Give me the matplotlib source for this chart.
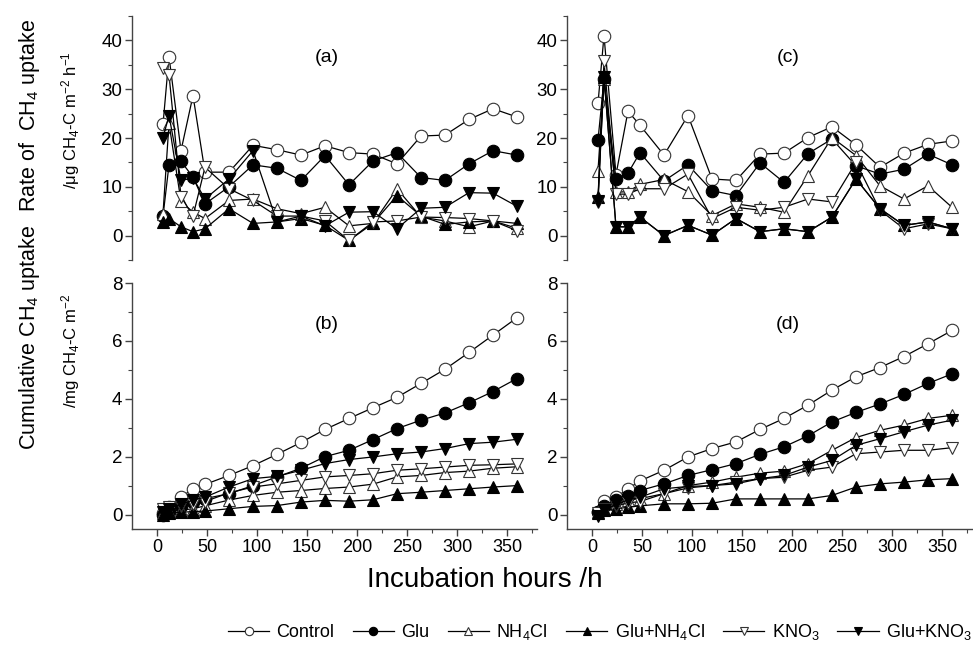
import numpy as np
import matplotlib
matplotlib.use("Agg")
import matplotlib.pyplot as plt
from matplotlib.lines import Line2D

plt.rcParams["font.family"] = ["Liberation Sans", "DejaVu Sans"]
plt.rcParams["mathtext.fontset"] = "custom"
plt.rcParams["mathtext.rm"] = "Liberation Sans"
plt.rcParams["mathtext.it"] = "Liberation Sans"

# ---- data ----
hours = [6, 12, 24, 36, 48, 72, 96, 120, 144, 168, 192, 216, 240, 264, 288, 312, 336, 360]
treatments = ["Control", "Glu", "NH$_4$Cl", "Glu+NH$_4$Cl", "KNO$_3$", "Glu+KNO$_3$"]

# (a) rate, soil 1
rate_a_control = [22.8, 36.7, 17.4, 28.7, 13.0, 13.0, 18.5, 17.6, 16.5, 18.4, 17.0, 16.7, 14.7, 20.4, 20.6, 23.8, 26.0, 24.3]
rate_a_glu     = [4.0, 14.5, 15.2, 12.0, 6.5, 10.0, 14.5, 13.8, 11.3, 16.4, 10.4, 15.3, 17.0, 11.9, 11.3, 14.7, 17.4, 16.5]
rate_a_nh4     = [4.5, 23.0, 7.0, 4.8, 3.5, 7.2, 7.5, 5.5, 4.5, 5.8, 2.0, 2.5, 9.6, 3.8, 3.0, 1.8, 3.0, 1.5]
rate_a_glu_nh4 = [2.8, 3.5, 1.8, 0.8, 1.4, 5.5, 2.5, 2.8, 3.5, 2.1, -1.0, 2.5, 8.2, 4.0, 2.3, 2.8, 3.0, 2.5]
rate_a_kno3    = [34.4, 33.0, 8.0, 4.0, 14.0, 9.6, 7.2, 4.0, 4.0, 3.0, -1.0, 2.8, 3.0, 3.8, 3.7, 3.5, 3.0, 1.0]
rate_a_glu_kno3 = [20.1, 24.6, 11.3, 11.8, 7.5, 11.6, 17.4, 2.8, 4.0, 2.0, 4.8, 4.9, 1.4, 5.6, 5.8, 8.8, 8.7, 6.0]

# (c) rate, soil 2
rate_c_control = [27.1, 41.0, 12.5, 25.5, 22.6, 16.5, 24.6, 11.6, 11.3, 16.7, 16.9, 20.1, 22.3, 18.6, 14.0, 16.9, 18.7, 19.4]
rate_c_glu     = [19.6, 32.0, 11.6, 12.8, 17.0, 11.2, 14.5, 9.2, 8.2, 14.9, 10.9, 16.8, 19.8, 14.3, 12.6, 13.6, 16.7, 14.5]
rate_c_nh4     = [13.3, 32.0, 8.9, 9.0, 10.5, 11.5, 9.0, 4.1, 6.5, 5.8, 4.8, 12.3, 20.1, 16.4, 10.2, 7.5, 10.2, 5.8]
rate_c_glu_nh4 = [8.0, 32.5, 1.8, 1.8, 3.8, 0.0, 2.1, 0.1, 3.5, 0.8, 1.4, 0.8, 3.8, 11.6, 5.5, 2.1, 2.8, 1.4]
rate_c_kno3    = [6.9, 35.7, 8.5, 8.5, 9.6, 9.6, 12.6, 3.5, 5.8, 5.2, 5.8, 7.5, 6.9, 15.0, 5.2, 1.4, 2.4, 1.4]
rate_c_glu_kno3 = [7.0, 32.5, 1.8, 1.8, 3.8, 0.0, 2.1, 0.1, 3.5, 0.8, 1.4, 0.8, 3.8, 11.6, 5.5, 2.1, 2.8, 1.4]

# (b) cumulative, soil 1
cum_b_control = [0.05, 0.25, 0.6, 0.89, 1.04, 1.35, 1.69, 2.08, 2.49, 2.94, 3.32, 3.69, 4.05, 4.53, 5.02, 5.6, 6.2, 6.8]
cum_b_glu     = [0.0, 0.1, 0.3, 0.45, 0.55, 0.72, 1.0, 1.3, 1.6, 2.0, 2.22, 2.59, 2.97, 3.26, 3.51, 3.86, 4.25, 4.7]
cum_b_nh4     = [0.05, 0.1, 0.15, 0.2, 0.3, 0.5, 0.66, 0.77, 0.83, 0.9, 0.95, 1.05, 1.3, 1.35, 1.45, 1.5, 1.6, 1.65]
cum_b_glu_nh4 = [0.0, 0.05, 0.08, 0.1, 0.12, 0.2, 0.28, 0.31, 0.43, 0.49, 0.46, 0.51, 0.72, 0.77, 0.83, 0.89, 0.95, 1.0]
cum_b_kno3    = [0.2, 0.25, 0.3, 0.35, 0.45, 0.75, 0.95, 1.06, 1.18, 1.3, 1.35, 1.41, 1.53, 1.58, 1.64, 1.7, 1.72, 1.75]
cum_b_glu_kno3 = [0.1, 0.2, 0.35, 0.5, 0.6, 0.95, 1.24, 1.32, 1.53, 1.76, 1.9, 1.99, 2.1, 2.16, 2.28, 2.45, 2.5, 2.6]

# (d) cumulative, soil 2
cum_d_control = [0.1, 0.46, 0.6, 0.89, 1.16, 1.53, 1.99, 2.28, 2.51, 2.94, 3.32, 3.78, 4.3, 4.76, 5.08, 5.46, 5.9, 6.36]
cum_d_glu     = [0.1, 0.3, 0.5, 0.65, 0.83, 1.06, 1.35, 1.55, 1.76, 2.08, 2.34, 2.72, 3.2, 3.53, 3.82, 4.15, 4.53, 4.86]
cum_d_nh4     = [0.1, 0.2, 0.35, 0.5, 0.55, 0.72, 1.0, 1.12, 1.29, 1.43, 1.5, 1.76, 2.22, 2.66, 2.91, 3.09, 3.32, 3.43]
cum_d_glu_nh4 = [0.05, 0.15, 0.2, 0.25, 0.3, 0.37, 0.37, 0.39, 0.54, 0.54, 0.54, 0.54, 0.66, 0.95, 1.06, 1.12, 1.2, 1.24]
cum_d_kno3    = [0.05, 0.2, 0.3, 0.4, 0.45, 0.72, 0.92, 1.0, 1.12, 1.24, 1.29, 1.53, 1.64, 2.1, 2.16, 2.22, 2.22, 2.31]
cum_d_glu_kno3 = [-0.05, 0.15, 0.35, 0.5, 0.6, 0.89, 0.97, 1.0, 1.06, 1.24, 1.35, 1.64, 1.87, 2.39, 2.62, 2.86, 3.09, 3.26]

# marker style per treatment: (marker, facecolor)
styles = [("o", "white"), ("o", "black"), ("^", "white"), ("^", "black"), ("v", "white"), ("v", "black")]

panels = {
    "a": [rate_a_control, rate_a_glu, rate_a_nh4, rate_a_glu_nh4, rate_a_kno3, rate_a_glu_kno3],
    "c": [rate_c_control, rate_c_glu, rate_c_nh4, rate_c_glu_nh4, rate_c_kno3, rate_c_glu_kno3],
    "b": [cum_b_control, cum_b_glu, cum_b_nh4, cum_b_glu_nh4, cum_b_kno3, cum_b_glu_kno3],
    "d": [cum_d_control, cum_d_glu, cum_d_nh4, cum_d_glu_nh4, cum_d_kno3, cum_d_glu_kno3],
}

W, H = 973, 650
fig = plt.figure(figsize=(W / 100, H / 100), dpi=100)


def px_axes(x0, y0, x1, y1):
    return fig.add_axes([x0 / W, 1 - y1 / H, (x1 - x0) / W, (y1 - y0) / H])


axes = {
    "a": px_axes(132, 16, 537, 260),
    "c": px_axes(567, 16, 972, 260),
    "b": px_axes(132, 283, 537, 529),
    "d": px_axes(567, 283, 972, 529),
}

for key, ax in axes.items():
    top = key in ("a", "c")
    for (m, fc), series in zip(styles, panels[key]):
        ax.plot(hours, series, color="black", lw=0.9, marker=m, ms=9,
                mfc=fc, mec="#333333" if fc == "white" else "black", mew=0.8)
    ax.set_xlim(-25, 380)
    if top:
        ax.set_ylim(-5, 45)
        ax.set_yticks([0, 10, 20, 30, 40])
        ax.set_yticks(np.arange(-5, 46, 5), minor=True)
        for s in ("top", "right", "bottom"):
            ax.spines[s].set_visible(False)
        ax.set_xticks([])
        ax.set_xticks([], minor=True)
    else:
        ax.set_ylim(-0.5, 8)
        ax.set_yticks([0, 2, 4, 6, 8])
        ax.set_yticks(np.arange(0, 8.1, 1), minor=True)
        ax.set_xticks(np.arange(0, 351, 50))
        ax.set_xticks(np.arange(25, 380, 25), minor=True)
        for s in ("top", "right"):
            ax.spines[s].set_visible(False)
    for s in ("left", "bottom"):
        ax.spines[s].set_color("#444444")
        ax.spines[s].set_linewidth(1.0)
    ax.tick_params(which="major", direction="out", length=5, width=1, color="#444444",
                   labelsize=13, pad=2)
    ax.tick_params(axis="y", labelsize=13.5)
    ax.tick_params(which="minor", direction="out", length=3, width=0.8, color="#444444")
    ax.patch.set_alpha(0)

axes["a"].text(170, 36.5, "(a)", fontsize=14, ha="center", va="center")
axes["c"].text(196, 36.5, "(c)", fontsize=14, ha="center", va="center")
axes["b"].text(170, 6.55, "(b)", fontsize=14, ha="center", va="center")
axes["d"].text(196, 6.55, "(d)", fontsize=14, ha="center", va="center")

# y labels
fig.text(30 / W, 1 - 115 / H, "Rate of  CH$_4$ uptake", rotation=90, fontsize=15.5,
         ha="center", va="center")
fig.text(71 / W, 1 - 120 / H, "/μg CH$_4$-C m$^{-2}$ h$^{-1}$", rotation=90, fontsize=12,
         ha="center", va="center")
fig.text(30 / W, 1 - 337 / H, "Cumulative CH$_4$ uptake", rotation=90, fontsize=15.5,
         ha="center", va="center")
fig.text(71 / W, 1 - 351 / H, "/mg CH$_4$-C m$^{-2}$", rotation=90, fontsize=12,
         ha="center", va="center")

fig.text(485 / W, 1 - 580 / H, "Incubation hours /h", fontsize=20, ha="center", va="center")

handles = [Line2D([], [], color="black", lw=0.9, marker=m, ms=6, mfc=fc,
                  mec="#333333" if fc == "white" else "black", mew=0.8)
           for m, fc in styles]
fig.legend(handles, treatments, loc="center", bbox_to_anchor=(600 / W, 1 - 632 / H),
           ncol=6, frameon=False, fontsize=13, handlelength=2.3, handletextpad=0.4,
           columnspacing=1.0, borderaxespad=0, borderpad=0)

fig.savefig("out.png", dpi=100)
